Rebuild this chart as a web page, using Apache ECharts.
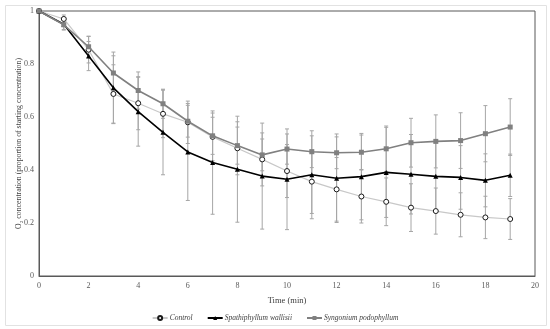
<!DOCTYPE html>
<html><head><meta charset="utf-8">
<script src="https://cdn.jsdelivr.net/npm/echarts@6/dist/echarts.min.js"></script>
<style>html,body{margin:0;padding:0;background:#fff}#c{width:550px;height:329px}</style>
</head><body><div id="c"></div>
<script>
const times = [0,1,2,3,4,5,6,7,8,9,10,11,12,13,14,15,16,17,18,19];
const controlVals = [1,0.97,0.854,0.687,0.652,0.612,0.58,0.525,0.482,0.44,0.396,0.356,0.327,0.30,0.28,0.258,0.245,0.231,0.221,0.215];
const controlErr  = [0,0.015,0.05,0.11,0.1,0.09,0.08,0.09,0.1,0.1,0.1,0.12,0.12,0.1,0.09,0.09,0.087,0.083,0.08,0.077];
const spathVals = [1,0.95,0.83,0.71,0.62,0.542,0.468,0.428,0.403,0.377,0.365,0.382,0.369,0.375,0.391,0.384,0.376,0.372,0.361,0.38];
const spathErr  = [0,0.02,0.055,0.135,0.13,0.16,0.183,0.195,0.2,0.2,0.19,0.166,0.167,0.163,0.17,0.15,0.13,0.12,0.1,0.08];
const syngVals = [1,0.948,0.865,0.766,0.70,0.65,0.584,0.529,0.492,0.457,0.479,0.469,0.465,0.467,0.48,0.503,0.508,0.511,0.537,0.562];
const syngErr  = [0,0.02,0.04,0.065,0.07,0.055,0.06,0.07,0.07,0.06,0.057,0.06,0.06,0.065,0.086,0.092,0.1,0.105,0.106,0.107];
const xTicks = [0,2,4,6,8,10,12,14,16,18,20];
const yTicks = [0,0.2,0.4,0.6,0.8,1];

const font = '"Liberation Serif", "Times New Roman", serif';
function errSeries(vals, errs, color) {
  return {
    type: 'custom', silent: true, z: 1,
    data: times.map((t,i)=>[t, vals[i]-errs[i], vals[i]+errs[i]]),
    renderItem: function(params, api) {
      const x = api.value(0);
      const lo = api.coord([x, api.value(1)]);
      const hi = api.coord([x, api.value(2)]);
      const w = 2;
      const st = {stroke: color, lineWidth: 1};
      return {type:'group', children:[
        {type:'line', shape:{x1:lo[0],y1:lo[1],x2:hi[0],y2:hi[1]}, style:st},
        {type:'line', shape:{x1:lo[0]-w,y1:lo[1],x2:lo[0]+w,y2:lo[1]}, style:st},
        {type:'line', shape:{x1:hi[0]-w,y1:hi[1],x2:hi[0]+w,y2:hi[1]}, style:st}
      ]};
    }
  };
}
const chart = echarts.init(document.getElementById('c'));
chart.setOption({
  animation: false,
  backgroundColor: '#fff',
  graphic: [{type:'rect', left:3, top:3, shape:{width:541, height:320}, style:{fill:'none', stroke:'#e2e2e2', lineWidth:1}, z:-1}],
  grid: {left:39, right:15, top:11, bottom:53, show:true, borderColor:'#595959', borderWidth:1, containLabel:false, outerBoundsMode:'none'},
  xAxis: {
    type:'value', min:0, max:20, interval:2,
    name:'Time (min)', nameLocation:'middle', nameGap:20, nameMoveOverlap:false,
    nameTextStyle:{fontFamily:font, fontSize:8.5, color:'#404040'},
    axisLine:{show:true, lineStyle:{color:'#595959'}}, axisTick:{show:false}, splitLine:{show:false},
    axisLabel:{fontFamily:font, fontSize:8, color:'#595959', margin:6,
      formatter: v => xTicks.includes(v) ? String(v) : ''}
  },
  yAxis: {
    type:'value', min:0, max:1, interval:0.2,
    name:'O\u2082 concentration (proportion of starting concentration)', nameLocation:'middle', nameGap:16, nameMoveOverlap:false,
    nameTextStyle:{fontFamily:font, fontSize:7.8, color:'#404040'},
    axisLine:{show:true, lineStyle:{color:'#595959'}}, axisTick:{show:false}, splitLine:{show:false},
    axisLabel:{fontFamily:font, fontSize:8, color:'#595959', margin:5,
      formatter: v => { const t = yTicks.find(k=>Math.abs(k-v)<1e-9); return t===undefined?'':String(t); }}
  },
  legend: {
    top: 309, left:'center', itemWidth: 15, itemHeight: 5, itemGap: 14,
    textStyle:{fontFamily:font, fontSize:7.5, fontStyle:'italic', color:'#404040', padding:[0,0,0,-3]},
    data:['Control','Spathiphyllum wallisii','Syngonium podophyllum']
  },
  series: [
    errSeries(controlVals, controlErr, '#a6a6a6'),
    errSeries(spathVals, spathErr, '#a6a6a6'),
    errSeries(syngVals, syngErr, '#a6a6a6'),
    {name:'Control', type:'line', z:3, data: times.map((t,i)=>[t, controlVals[i]]),
      lineStyle:{color:'#c8c8c8', width:1.2}, itemStyle:{color:'#fff', borderColor:'#1a1a1a', borderWidth:1},
      symbol:'circle', symbolSize:5, showAllSymbol:true},
    {name:'Spathiphyllum wallisii', type:'line', z:4, data: times.map((t,i)=>[t, spathVals[i]]),
      lineStyle:{color:'#000', width:1.6}, itemStyle:{color:'#000'},
      symbol:'triangle', symbolSize:5, showAllSymbol:true},
    {name:'Syngonium podophyllum', type:'line', z:5, data: times.map((t,i)=>[t, syngVals[i]]),
      lineStyle:{color:'#808080', width:1.6}, itemStyle:{color:'#808080'},
      symbol:'rect', symbolSize:5, showAllSymbol:true}
  ]
});
</script></body></html>
